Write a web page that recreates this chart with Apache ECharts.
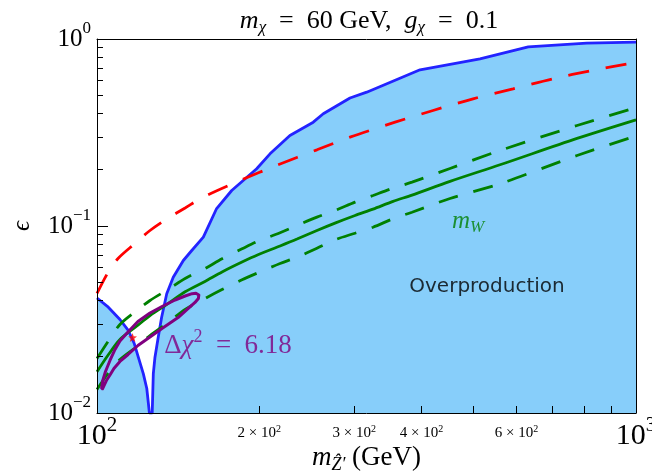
<!DOCTYPE html>
<html><head><meta charset="utf-8">
<script src="https://cdn.jsdelivr.net/npm/echarts@6/dist/echarts.min.js"></script>
<style>html,body{margin:0;padding:0;background:#fff}#c{width:652px;height:475px}</style>
</head><body><div id="c"></div>
<script>
// ---- data ----
const overprodX = [100,104.95,110.3,114.3,117.3,119.3,121.9,123.7,125.1,126.6,127.2,128.1,129.9,131.8,134.7,138.5,144.6,149.9,157.5,166.7,177.8,197.8,209.4,228.0,251.9,262.9,294.7,316.5,397.5,513.5,631.2,810.0,1000];
const overprodY = [0.04121,0.03680,0.03162,0.02763,0.02345,0.01988,0.01620,0.01352,0.01,0.01,0.01626,0.01988,0.02543,0.03252,0.04340,0.05324,0.06540,0.07395,0.08712,0.1240,0.1548,0.2023,0.2432,0.3048,0.3590,0.3981,0.4835,0.5195,0.6844,0.7838,0.9085,0.9496,0.9614];

const relicX = [100,104.8,109.4,117.6,125.4,134.9,145.7,157.3,184.2,216.7,255.9,294.7,357.3,420.2,498.5,591.4,701.5,828.5,1000];
const relicY = [0.04356,0.05641,0.06703,0.08061,0.09461,0.1093,0.1248,0.1426,0.1751,0.2125,0.2555,0.2985,0.3590,0.4147,0.4788,0.5416,0.6127,0.6786,0.7488];

const mwX = [100,104.8,110.3,118.6,125.4,135.4,145.7,158.6,170.6,185.8,198.9,218.6,235.0,255.9,276.4,301.1,325.2,354.2,384.1,451.8,559.3,777.4,1000];
const mwCentral = [0.01661,0.02035,0.02472,0.02919,0.03321,0.03842,0.04448,0.05055,0.05676,0.06412,0.07015,0.07816,0.08512,0.09461,0.1036,0.1138,0.1231,0.1354,0.1463,0.1732,0.2125,0.2941,0.3698];
const mwUpper = [0.01956,0.02412,0.02973,0.03533,0.03995,0.04575,0.05239,0.05925,0.06677,0.07551,0.08294,0.09197,0.1006,0.1115,0.1210,0.1341,0.1456,0.1593,0.1715,0.2030,0.2533,0.3447,0.4302];
const mwLower = [0.01336,0.01626,0.01932,0.02269,0.02597,0.03048,0.03577,0.04097,0.04576,0.05157,0.05620,0.06302,0.06810,0.07607,0.08439,0.09151,0.09853,0.1093,0.1185,0.1403,0.1681,0.2383,0.3029];

const contourX = [102.0,102.5,103.7,105.7,108.0,110.3,113.7,119.1,125.4,132.0,139.6,145.7,150.1,152.6,154.5,154.2,152.0,147.7,141.4,132.0,125.4,119.1,114.2,110.3,107.5,105.7,104.1,103.0,102.4,102.0];
const contourY = [0.01361,0.01492,0.01667,0.01909,0.02186,0.02427,0.02679,0.03085,0.03425,0.03712,0.04020,0.04224,0.04345,0.04367,0.04276,0.04097,0.03899,0.03622,0.03240,0.02830,0.02549,0.02296,0.02055,0.01886,0.01730,0.01597,0.01492,0.01395,0.01347,0.01361];

const bestFit = [116.4, 0.02534];

const xMajorTicks = [100, 1000];
const xMinorTicks = [200,300,400,500,600,700,800,900];
const xMinorLabels = [200,300,400,600];
const yMajorTicks = [0.01, 0.1, 1];
const yMinorTicks = [0.02,0.03,0.04,0.05,0.06,0.07,0.08,0.09,0.2,0.3,0.4,0.5,0.6,0.7,0.8,0.9];

const annoDelta = [175.0, 0.02296];
const annoMW = [487.9, 0.1057];
const annoOver = [529.2, 0.04749];

// ---- build ----
const serif = "'Liberation Serif','DejaVu Serif',serif";
const sans = "'DejaVu Sans','Noto Sans',sans-serif";
const zip = (xs, ys) => xs.map((x, i) => [x, ys[i]]);
const lg = a => a.map(v => Math.log10(v));
const EQ = '\u2002=\u2002';

const chart = echarts.init(document.getElementById('c'), null, {renderer: 'canvas'});

const frameAxisBase = {type: 'value', axisLine: {show: true, onZero: false, lineStyle: {color: '#000', width: 1}},
  axisTick: {show: false}, axisLabel: {show: false}, splitLine: {show: false}, z: 10};

const option = {
  backgroundColor: '#fff',
  animation: false,
  title: {
    text: '{i|m}{sub|χ}{r|' + EQ + '60 GeV,  }{i|g}{sub|χ}{r|' + EQ + '0.1}',
    left: 364, top: 1, textAlign: 'center',
    textStyle: {fontWeight: 'normal', rich: {
      i: {fontFamily: serif, fontStyle: 'italic', fontWeight: 'normal', fontSize: 26, color: '#000'},
      sub: {fontFamily: serif, fontStyle: 'italic', fontWeight: 'normal', fontSize: 17, color: '#000', padding: [13, 0, 0, 0]},
      r: {fontFamily: serif, fontWeight: 'normal', fontSize: 26, color: '#000'}
    }}
  },
  grid: {left: 97, right: 16, top: 39, bottom: 62, show: false, containLabel: false, outerBoundsMode: 'none'},
  xAxis: [
    {type: 'log', logBase: 10, min: 100, max: 1000, show: false, splitLine: {show: false}},
    Object.assign({}, frameAxisBase, {
      min: 2, max: 3, position: 'bottom',
      axisTick: {show: true, inside: true, length: 11, customValues: lg(xMajorTicks), lineStyle: {color: '#000', width: 1}},
      axisLabel: {show: true, customValues: lg(xMajorTicks), showMinLabel: true, showMaxLabel: true, margin: 2,
        formatter: v => '{b|10}{s|' + Math.round(v) + '}',
        rich: {b: {fontFamily: serif, fontSize: 30, color: '#000'},
               s: {fontFamily: serif, fontSize: 21, color: '#000', padding: [0, 0, 22, 0]}}},
      name: '{i|m}{sub|Ẑ′}{r| (GeV)}', nameLocation: 'middle', nameGap: 29, nameMoveOverlap: false,
      nameTextStyle: {rich: {
        i: {fontFamily: serif, fontStyle: 'italic', fontSize: 27, color: '#000'},
        sub: {fontFamily: serif, fontStyle: 'italic', fontSize: 18, color: '#000', padding: [14, 0, 0, 0]},
        r: {fontFamily: serif, fontSize: 27, color: '#000'}
      }}
    }),
    Object.assign({}, frameAxisBase, {
      min: 2, max: 3, position: 'bottom', axisLine: {show: false, onZero: false},
      axisTick: {show: true, inside: true, length: 7, customValues: lg(xMinorTicks), lineStyle: {color: '#000', width: 1}},
      axisLabel: {show: true, customValues: lg(xMinorLabels), margin: 11,
        formatter: v => '{a|' + Math.round(Math.pow(10, v) / 100) + ' × 10}{s|2}',
        rich: {a: {fontFamily: serif, fontSize: 15, color: '#000'},
               s: {fontFamily: serif, fontSize: 10, color: '#000', padding: [0, 0, 9, 0]}}}
    }),
    Object.assign({}, frameAxisBase, {min: 2, max: 3, position: 'top'})
  ],
  yAxis: [
    {type: 'log', logBase: 10, min: 0.01, max: 1, show: false, splitLine: {show: false}},
    Object.assign({}, frameAxisBase, {
      min: -2, max: 0, position: 'left',
      axisTick: {show: true, inside: true, length: 11, customValues: lg(yMajorTicks), lineStyle: {color: '#000', width: 1}},
      axisLabel: {show: true, customValues: lg(yMajorTicks), showMinLabel: true, showMaxLabel: true, margin: 6,
        formatter: v => { const e = Math.round(v); return '{b|10}{s|' + (e === 0 ? '0' : '−' + (-e)) + '}'; },
        rich: {b: {fontFamily: serif, fontSize: 25, color: '#000'},
               s: {fontFamily: serif, fontSize: 17, color: '#000', padding: [0, 0, 20, 0]}}},
      name: 'ϵ', nameLocation: 'middle', nameGap: 62, nameRotate: 90, nameMoveOverlap: false,
      nameTextStyle: {fontFamily: serif, fontStyle: 'italic', fontSize: 25, color: '#000'}
    }),
    Object.assign({}, frameAxisBase, {
      min: -2, max: 0, position: 'left', axisLine: {show: false, onZero: false},
      axisTick: {show: true, inside: true, length: 6, customValues: lg(yMinorTicks), lineStyle: {color: '#000', width: 1}}
    }),
    Object.assign({}, frameAxisBase, {min: -2, max: 0, position: 'right'})
  ],
  series: [
    {
      name: 'Overproduction', type: 'line', xAxisIndex: 0, yAxisIndex: 0,
      data: zip(overprodX, overprodY), showSymbol: false, smooth: false,
      lineStyle: {color: '#2323ff', width: 2.8},
      areaStyle: {color: '#87cefa', opacity: 1, origin: 'start'},
      z: 2
    },
    {
      name: 'relic', type: 'line', xAxisIndex: 0, yAxisIndex: 0,
      data: zip(relicX, relicY), showSymbol: false, smooth: 0.3,
      lineStyle: {color: '#ff0000', width: 2.8, type: [21, 17]}, z: 3
    },
    {
      name: 'mW upper', type: 'line', xAxisIndex: 0, yAxisIndex: 0,
      data: zip(mwX, mwUpper), showSymbol: false, smooth: 0.3,
      lineStyle: {color: '#008000', width: 2.8, type: [20, 16]}, z: 3
    },
    {
      name: 'mW', type: 'line', xAxisIndex: 0, yAxisIndex: 0,
      data: zip(mwX, mwCentral), showSymbol: false, smooth: 0.3,
      lineStyle: {color: '#008000', width: 2.8}, z: 3
    },
    {
      name: 'mW lower', type: 'line', xAxisIndex: 0, yAxisIndex: 0,
      data: zip(mwX, mwLower), showSymbol: false, smooth: 0.3,
      lineStyle: {color: '#008000', width: 2.8, type: [20, 16]}, z: 3
    },
    {
      name: 'contour', type: 'line', xAxisIndex: 0, yAxisIndex: 0,
      data: zip(contourX, contourY), showSymbol: false, smooth: false,
      lineStyle: {color: '#800080', width: 3, join: 'round', cap: 'round'}, z: 4
    },
    {
      name: 'best fit', type: 'scatter', xAxisIndex: 0, yAxisIndex: 0,
      data: [bestFit], symbol: 'path://M0,-10 L2.35,-3.24 9.51,-3.09 3.8,1.24 5.88,8.09 0,4 -5.88,8.09 -3.8,1.24 -9.51,-3.09 -2.35,-3.24Z',
      symbolSize: 9, itemStyle: {color: '#ff0000'}, z: 3
    },
    {
      name: 'labels', type: 'scatter', xAxisIndex: 0, yAxisIndex: 0,
      symbolSize: 1, itemStyle: {color: 'rgba(0,0,0,0)'}, silent: true, z: 6,
      data: [
        {value: annoDelta, label: {show: true, position: 'inside', formatter: '{a|Δ}{i|χ}{s|2}{a|' + EQ + '6.18}',
          rich: {a: {fontFamily: serif, fontSize: 27, color: '#800080'},
                 i: {fontFamily: serif, fontStyle: 'italic', fontSize: 27, color: '#800080'},
                 s: {fontFamily: serif, fontSize: 18, color: '#800080', padding: [0, 0, 17, 0]}}}},
        {value: annoMW, label: {show: true, position: 'inside', formatter: '{i|m}{s|W}',
          rich: {i: {fontFamily: serif, fontStyle: 'italic', fontSize: 25, color: '#008000'},
                 s: {fontFamily: serif, fontStyle: 'italic', fontSize: 17, color: '#008000', padding: [12, 0, 0, 0]}}}},
        {value: annoOver, label: {show: true, position: 'inside', formatter: 'Overproduction',
          fontFamily: sans, fontSize: 20, color: '#000'}}
      ]
    }
  ]
};
chart.setOption(option);
</script>
</body></html>
